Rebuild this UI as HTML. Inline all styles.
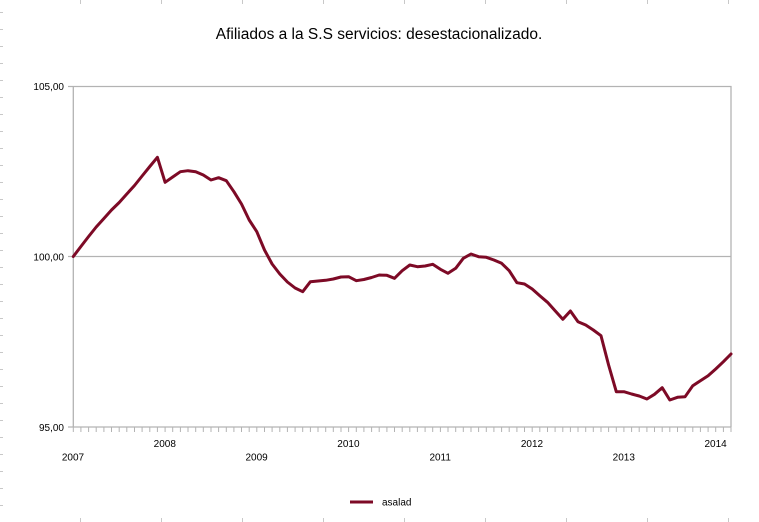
<!DOCTYPE html>
<html>
<head>
<meta charset="utf-8">
<style>
html,body{margin:0;padding:0;background:#fff;}
svg{display:block;font-family:"Liberation Sans",Arial,sans-serif;}
</style>
</head>
<body>
<svg width="759" height="522" viewBox="0 0 759 522" xmlns="http://www.w3.org/2000/svg">
<rect x="0" y="0" width="759" height="522" fill="#fff"/>
<g stroke="#c8c8c8" stroke-width="1">
<path d="M0 12.5h3M0 29.5h3M0 46.5h3M0 63.5h3M0 80.5h3M0 97.5h3M0 114.5h3M0 131.5h3M0 148.5h3M0 165.5h3M0 182.5h3M0 199.5h3M0 216.5h3M0 233.5h3M0 250.5h3M0 267.5h3M0 284.5h3M0 301.5h3M0 318.5h3M0 335.5h3M0 352.5h3M0 369.5h3M0 386.5h3M0 403.5h3M0 420.5h3M0 437.5h3M0 454.5h3M0 471.5h3M0 488.5h3M0 505.5h3"/>
<path d="M80.5 0v4M161.5 0v4M242.5 0v4M323.5 0v4M404.5 0v4M485.5 0v4M566.5 0v4M647.5 0v4M728.5 0v4"/>
<path d="M80.5 518v4M161.5 518v4M242.5 518v4M323.5 518v4M404.5 518v4M485.5 518v4M566.5 518v4M647.5 518v4M728.5 518v4"/>
</g>
<text x="379" y="39" font-size="15.5" text-anchor="middle" fill="#000">Afiliados a la S.S servicios: desestacionalizado.</text>
<g stroke="#b3b3b3" stroke-width="1.3" fill="none">
<path d="M68 86.5H731.5"/>
<path d="M68 256.5H731.5"/>
<path d="M68 427H731.5"/>
<path d="M73.3 86V427"/>
<path d="M731 86V427"/>
</g>
<path stroke="#b3b3b3" stroke-width="1" fill="none" d="M73.3 427V432M80.9 427V432M88.6 427V432M96.2 427V432M103.9 427V432M111.5 427V432M119.2 427V432M126.8 427V432M134.5 427V432M142.1 427V432M149.8 427V432M157.4 427V432M165.1 427V432M172.7 427V432M180.4 427V432M188 427V432M195.7 427V432M203.3 427V432M211 427V432M218.6 427V432M226.3 427V432M233.9 427V432M241.5 427V432M249.2 427V432M256.8 427V432M264.5 427V432M272.1 427V432M279.8 427V432M287.4 427V432M295.1 427V432M302.7 427V432M310.4 427V432M318 427V432M325.7 427V432M333.3 427V432M341 427V432M348.6 427V432M356.3 427V432M363.9 427V432M371.6 427V432M379.2 427V432M386.9 427V432M394.5 427V432M402.2 427V432M409.8 427V432M417.4 427V432M425.1 427V432M432.7 427V432M440.4 427V432M448 427V432M455.7 427V432M463.3 427V432M471 427V432M478.6 427V432M486.3 427V432M493.9 427V432M501.6 427V432M509.2 427V432M516.9 427V432M524.5 427V432M532.2 427V432M539.8 427V432M547.5 427V432M555.1 427V432M562.8 427V432M570.4 427V432M578 427V432M585.7 427V432M593.3 427V432M601 427V432M608.6 427V432M616.3 427V432M623.9 427V432M631.6 427V432M639.2 427V432M646.9 427V432M654.5 427V432M662.2 427V432M669.8 427V432M677.5 427V432M685.1 427V432M692.8 427V432M700.4 427V432M708.1 427V432M715.7 427V432M723.4 427V432M731 427V432"/>
<g font-size="10" fill="#000" text-anchor="end">
<text x="64" y="90">105,00</text>
<text x="64" y="260.5">100,00</text>
<text x="64" y="431">95,00</text>
</g>
<g font-size="10" fill="#000" text-anchor="middle">
<text x="73" y="460.5">2007</text>
<text x="164.8" y="447">2008</text>
<text x="256.6" y="460.5">2009</text>
<text x="348.4" y="447">2010</text>
<text x="440.2" y="460.5">2011</text>
<text x="532" y="447">2012</text>
<text x="623.8" y="460.5">2013</text>
<text x="715.6" y="447">2014</text>
</g>
<polyline fill="none" stroke="#7d0a26" stroke-width="3" stroke-linejoin="round" stroke-linecap="round" points="73.3,256.5 80.9,246.5 88.6,236.5 96.2,227 103.9,218.5 111.5,210 119.2,202.5 126.8,194 134.5,185.5 142.1,176 149.8,166.5 157.4,157.3 165.1,182.3 172.7,177 180.4,171.7 188,170.7 195.7,171.7 203.3,175 211,180 218.6,177.7 226.3,180.7 233.9,191.7 241.5,204 249.2,220 256.8,231.7 264.5,250 272.1,264 279.8,274 287.4,282 295.1,288 302.7,291.7 310.4,281.7 318,281 325.7,280.3 333.3,279 341,277 348.6,276.7 356.3,280.7 363.9,279.5 371.6,277.5 379.2,275 386.9,275.3 394.5,278.3 402.2,270.7 409.8,265 417.4,266.7 425.1,266 432.7,264.3 440.4,269.3 448,273.3 455.7,268.3 463.3,258.3 471,254 478.6,256.7 486.3,257.3 493.9,260 501.6,263.3 509.2,270.7 516.9,282.7 524.5,284 532.2,289 539.8,295.7 547.5,302.3 555.1,310.7 562.8,319.3 570.4,311 578,321.7 585.7,325 593.3,330 601,335.7 608.6,365 616.3,391.7 623.9,391.7 631.6,394 639.2,396 646.9,399 654.5,394.3 662.2,387.7 669.8,400 677.5,397.3 685.1,396.7 692.8,385.7 700.4,380.7 708.1,375.7 715.7,369 723.4,361.7 731,354"/>
<path d="M350 502H373" stroke="#7d0a26" stroke-width="3"/>
<text x="382" y="505.5" font-size="10" fill="#000">asalad</text>
</svg>
</body>
</html>
